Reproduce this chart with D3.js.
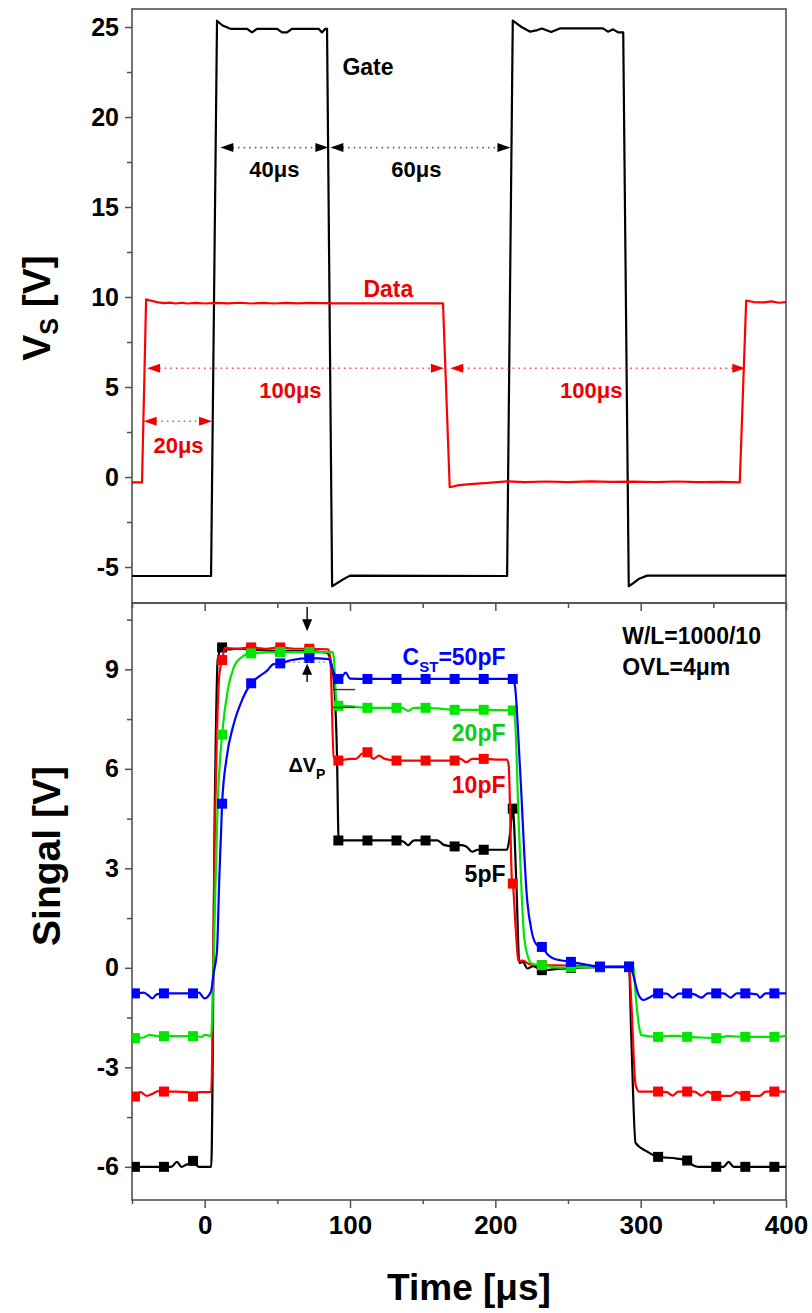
<!DOCTYPE html>
<html><head><meta charset="utf-8">
<script src="https://cdn.jsdelivr.net/npm/d3@7"></script>
<style>
html,body{margin:0;padding:0;background:#fff}
svg text{font-family:"Liberation Sans",Arial,sans-serif;font-weight:bold}
</style></head>
<body><svg id="chart" width="812" height="1313"></svg>
<script>
// ---------------- data ----------------
const timeTicks = [0, 100, 200, 300, 400];
const timeMinor = [-50, 50, 150, 250, 350];
const vsTicks = [-5, 0, 5, 10, 15, 20, 25];
const vsMinor = [-2.5, 2.5, 7.5, 12.5, 17.5, 22.5];
const sigTicks = [-6, -3, 0, 3, 6, 9];
const sigMinor = [-4.5, -1.5, 1.5, 4.5, 7.5, 10.5];

// gate pulse [time µs, volts]
const gateTrace = [[-50,-5.5],[4.4,-5.5],[8.5,25.35],[12,25.1],[17.7,24.9],[29.2,24.9],[32.6,24.7],[36,24.9],[49.8,24.9],
  [53.3,24.7],[56.7,24.7],[60,24.9],[78.4,24.9],[80.7,24.7],[83,24.9],[84.2,24.9],[87.7,-6.07],[94.2,-5.74],[100,-5.48],
  [208.1,-5.5],[212,25.35],[218,25.0],[224,24.74],[229,24.83],[232,24.92],[238.5,24.72],[244.3,24.92],[274,24.92],
  [277.5,24.74],[281,24.87],[284.5,24.7],[288,24.7],[291.8,-6.07],[295,-5.9],[299,-5.65],[304.5,-5.48],[400,-5.48]];

// data line
const dataTrace = [[-50,-0.3],[-43.1,-0.3],[-40.3,9.87],[-36,9.78],[-32,9.7],[-28,9.66],[-24,9.69],[-20,9.64],[-16,9.68],
  [-12,9.64],[-6,9.67],[0,9.64],[8,9.67],[16,9.65],[24,9.68],[32,9.64],[40,9.67],[48,9.64],[56,9.67],[64,9.65],[72,9.67],
  [90,9.65],[164,9.65],[168.6,-0.57],[175,-0.45],[185,-0.38],[195,-0.33],[208,-0.24],[220,-0.28],[235,-0.25],[250,-0.29],
  [265,-0.24],[280,-0.27],[295,-0.26],[310,-0.29],[325,-0.25],[340,-0.29],[355,-0.27],[368.2,-0.3],[372.6,9.8],[378,9.72],
  [385,9.7],[390,9.76],[395,9.68],[400,9.72]];

// pixel signal for each storage capacitor
const cst5Trace = [[-50,-6.0],[-28,-6.0],[-23,-6.0],[-19,-5.85],[-16,-6.0],[-12,-5.92],[-8,-5.88],[-4,-6.0],[4.5,-6.0],
  [7,5],[9,9.3],[12,9.66],[16,9.6],[22,9.62],[32,9.6],[52,9.55],[72,9.55],[84,9.5],[87,9.2],[89,8.6],[91,6.5],[92.2,3.84],
  [112,3.84],[132,3.84],[137,3.8],[140,3.7],[144,3.84],[152,3.84],[160,3.84],[165,3.7],[172,3.66],[176,3.7],[180,3.66],
  [184,3.5],[188,3.56],[192,3.56],[208,3.56],[210,4.0],[212,4.8],[214.5,2.5],[216.5,0.15],[219,0.18],[222,-0.02],[226,0.05],
  [232,-0.07],[252,0.0],[272,0.02],[292,0.02],[293.5,-2],[296.5,-5.28],[304.5,-5.54],[312,-5.7],[325,-5.75],[332,-5.81],
  [336,-5.95],[340,-6.0],[352,-6.0],[357,-6.0],[360.5,-5.85],[364,-6.0],[372,-6.0],[392,-6.0],[400,-6.0]];
const cst10Trace = [[-50,-3.8],[-48,-3.86],[-44,-3.75],[-40,-3.86],[-36,-3.8],[-32,-3.72],[-28,-3.73],[-20,-3.73],[-12,-3.75],
  [-8,-3.84],[-4,-3.75],[4.5,-3.75],[7,4],[10,8.8],[12,9.28],[14,9.65],[22,9.62],[32,9.66],[42,9.62],[52,9.66],[62,9.62],
  [72,9.62],[85,9.6],[86.5,9.3],[88.8,6.35],[92,6.25],[100,6.3],[104,6.3],[108,6.45],[112,6.5],[116,6.3],[120,6.4],[124,6.3],
  [132,6.25],[152,6.25],[172,6.25],[176,6.3],[180,6.2],[184,6.3],[188,6.3],[192,6.3],[200,6.28],[208,6.28],[209.2,6.1],
  [211.5,2.6],[212,2.54],[214,1.2],[216,0.2],[219,0.22],[224,0.1],[232,0.08],[252,0.07],[272,0.04],[292,0.04],[293.5,-1.0],
  [296.5,-3.53],[299,-3.73],[312,-3.73],[318,-3.75],[322,-3.85],[326,-3.73],[332,-3.73],[337,-3.73],[342,-3.85],[346,-3.73],
  [352,-3.86],[362,-3.86],[366,-3.75],[372,-3.86],[382,-3.86],[386,-3.73],[392,-3.73],[400,-3.73]];
const cst20Trace = [[-50,-2.12],[-48,-2.12],[-42,-2.1],[-38,-2.02],[-34,-2.05],[-28,-2.06],[-18,-2.06],[-8,-2.06],[-2,-2.08],
  [0,-2.02],[4.5,-2.05],[6,0],[9,5],[12,7.03],[16,8.4],[20,9.06],[25,9.35],[29,9.46],[32,9.48],[52,9.52],[72,9.52],[88,9.52],
  [89,9.3],[90.7,7.96],[92,7.9],[96,7.9],[112,7.84],[132,7.84],[136,7.84],[140,7.75],[144,7.84],[152,7.84],[160,7.82],
  [172,7.78],[192,7.78],[212,7.76],[213.5,7.5],[216,4.5],[219.6,1.05],[222,0.4],[225,0.13],[232,0.08],[245,0.0],[252,0.02],
  [272,0.02],[292,0.05],[295,0.02],[296.5,-0.8],[299,-1.8],[300.4,-2.03],[312,-2.08],[320,-2.05],[326,-2.05],[332,-2.08],
  [342,-2.1],[352,-2.12],[360,-2.06],[372,-2.08],[392,-2.08],[400,-2.05]];
const cst50Trace = [[-50,-0.77],[-48,-0.77],[-42,-0.75],[-39,-0.82],[-36,-0.92],[-33,-0.8],[-28,-0.77],[-8,-0.77],[-4,-0.75],
  [0,-0.92],[3,-0.82],[4.5,-0.7],[6,-0.2],[8.5,0.53],[10,2.6],[12,4.95],[15,6.3],[20,7.35],[26,8.1],[32,8.58],[38,8.8],
  [43,8.96],[47,9.15],[52,9.18],[60,9.28],[72,9.34],[85.4,9.31],[88,9.0],[91.1,8.71],[94,8.75],[97,8.9],[100,8.72],
  [112,8.71],[212,8.71],[213.5,8.5],[217,6.0],[221.9,2.04],[225,1.1],[228.8,0.68],[232,0.63],[236,0.4],[240,0.28],
  [252,0.18],[262,0.1],[272,0.03],[292,0.03],[294,-0.1],[298.6,-0.82],[302,-0.97],[305,-0.92],[312,-0.77],[318,-0.78],
  [322,-0.9],[326,-0.78],[332,-0.77],[337,-0.8],[342,-0.9],[346,-0.77],[352,-0.77],[357,-0.77],[362,-0.9],[366,-0.77],
  [372,-0.77],[380,-0.8],[382,-0.9],[386,-0.77],[392,-0.77],[400,-0.77]];

// symbol sample times and values
const markerTimes = [-48,-28,-8,12,32,52,72,92,112,132,152,172,192,212,232,252,272,292,312,332,352,372,392];
const cst5Marks  = [-6.0,-6.0,-5.82,9.66,9.6,9.55,9.55,3.84,3.84,3.84,3.84,3.66,3.56,4.8,-0.07,0.0,0.02,0.02,-5.7,-5.81,-6.0,-6.0,-6.0];
const cst10Marks = [-3.88,-3.73,-3.88,9.28,9.66,9.66,9.62,6.25,6.5,6.25,6.25,6.25,6.3,2.54,0.08,0.07,0.04,0.04,-3.73,-3.73,-3.86,-3.86,-3.73];
const cst20Marks = [-2.12,-2.06,-2.06,7.03,9.48,9.52,9.52,7.9,7.84,7.84,7.84,7.78,7.78,7.76,0.08,0.02,0.02,0.05,-2.08,-2.08,-2.12,-2.08,-2.08];
const cst50Marks = [-0.77,-0.77,-0.77,4.95,8.58,9.18,9.34,8.71,8.71,8.71,8.71,8.71,8.71,8.71,0.63,0.18,0.03,0.03,-0.77,-0.77,-0.77,-0.77,-0.77];

const signalSeries = [
  {name: "5pF",  trace: cst5Trace,  marks: cst5Marks,  color: "#000000"},
  {name: "10pF", trace: cst10Trace, marks: cst10Marks, color: "#ff0000"},
  {name: "20pF", trace: cst20Trace, marks: cst20Marks, color: "#00e600"},
  {name: "50pF", trace: cst50Trace, marks: cst50Marks, color: "#0000ff"}
];

// ---------------- layout & scales ----------------
const svg = d3.select("#chart");
const L = 132, R = 786, T = 9, MID = 603, B = 1200;
const x = d3.scaleLinear().domain([-50, 400]).range([L, R]);
const yTop = d3.scaleLinear().domain([-7, 26]).range([MID, T]);
const yBot = d3.scaleLinear().domain([-7, 11]).range([B, MID]);
const fmt = d => String(d);
const axisColor = "#505050";
const markSize = 10;

const defs = svg.append("defs");
defs.append("clipPath").attr("id", "clipTop").append("rect").attr("x", L).attr("y", T).attr("width", R - L).attr("height", MID - T);
defs.append("clipPath").attr("id", "clipBot").append("rect").attr("x", L).attr("y", MID).attr("width", R - L).attr("height", B - MID);

function styleAxis(g) {
  g.select(".domain").remove();
  g.selectAll(".tick line").attr("stroke", axisColor).attr("stroke-width", 1.5);
  g.selectAll(".tick text").attr("fill", "#000").style("font-family", '"Liberation Sans",Arial,sans-serif').style("font-weight", "bold");
}

// ---------------- axes ----------------
// top panel y
svg.append("g").attr("transform", `translate(${L},0)`)
  .call(d3.axisLeft(yTop).tickValues(vsTicks).tickSize(7).tickPadding(6).tickFormat(fmt))
  .call(styleAxis).call(g => g.selectAll("text").attr("font-size", 25));
svg.append("g").attr("transform", `translate(${L},0)`)
  .call(d3.axisLeft(yTop).tickValues(vsMinor).tickSize(5).tickFormat(""))
  .call(styleAxis);
// bottom panel y
svg.append("g").attr("transform", `translate(${L},0)`)
  .call(d3.axisLeft(yBot).tickValues(sigTicks).tickSize(7).tickPadding(6).tickFormat(fmt))
  .call(styleAxis).call(g => g.selectAll("text").attr("font-size", 25));
svg.append("g").attr("transform", `translate(${L},0)`)
  .call(d3.axisLeft(yBot).tickValues(sigMinor).tickSize(5).tickFormat(""))
  .call(styleAxis);
// bottom x axis
svg.append("g").attr("transform", `translate(0,${B})`)
  .call(d3.axisBottom(x).tickValues(timeTicks).tickSize(8).tickPadding(8).tickFormat(fmt))
  .call(styleAxis).call(g => g.selectAll("text").attr("font-size", 26));
svg.append("g").attr("transform", `translate(0,${B})`)
  .call(d3.axisBottom(x).tickValues(timeMinor).tickSize(4).tickFormat(""))
  .call(styleAxis);
// ticks hanging into the lower panel from the shared edge
svg.append("g").attr("transform", `translate(0,${MID})`)
  .call(d3.axisBottom(x).tickValues(timeTicks).tickSize(8).tickFormat(""))
  .call(styleAxis);
svg.append("g").attr("transform", `translate(0,${MID})`)
  .call(d3.axisBottom(x).tickValues(timeMinor).tickSize(5).tickFormat(""))
  .call(styleAxis);

// frames
[[T, MID], [MID, B]].forEach(([a, b]) => {
  svg.append("rect").attr("x", L).attr("y", a).attr("width", R - L).attr("height", b - a)
    .attr("fill", "none").attr("stroke", axisColor).attr("stroke-width", 1.6);
});

// axis titles
const vsTitle = svg.append("text").attr("transform", "translate(50,308) rotate(-90)")
  .attr("text-anchor", "middle").attr("font-size", 39);
vsTitle.append("tspan").text("V");
vsTitle.append("tspan").attr("font-size", 25).attr("dy", 8).text("S");
vsTitle.append("tspan").attr("dy", -8).text(" [V]");

svg.append("text").attr("transform", "translate(60,856) rotate(-90)")
  .attr("text-anchor", "middle").attr("font-size", 39).text("Singal [V]");

svg.append("text").attr("x", 469).attr("y", 1300).attr("text-anchor", "middle")
  .attr("font-size", 37).text("Time [μs]");

// ---------------- top panel ----------------
const topG = svg.append("g").attr("clip-path", "url(#clipTop)");
const lineTop = d3.line().x(d => x(d[0])).y(d => yTop(d[1]));
topG.append("path").datum(gateTrace).attr("d", lineTop).attr("fill", "none")
  .attr("stroke", "#000").attr("stroke-width", 2.2).attr("stroke-linejoin", "round");
topG.append("path").datum(dataTrace).attr("d", lineTop).attr("fill", "none")
  .attr("stroke", "#ff0000").attr("stroke-width", 2.2).attr("stroke-linejoin", "round");

function head(px, py, dir, len, half) {
  // dir = -1 points left, +1 points right, tip at (px,py)
  return `M${px},${py}L${px - dir * len},${py - half}L${px - dir * len},${py + half}Z`;
}
function span(g, s, yScale, color, dotColor) {
  const y0 = yScale(s.level), x0 = x(s.from), x1 = x(s.to);
  g.append("line").attr("x1", x0 + 12).attr("x2", x1 - 12).attr("y1", y0).attr("y2", y0)
    .attr("stroke", dotColor).attr("stroke-width", 1.6).attr("stroke-dasharray", "1.6,4");
  g.append("path").attr("d", head(x0, y0, -1, 13, 4.5)).attr("fill", color);
  g.append("path").attr("d", head(x1, y0, 1, 13, 4.5)).attr("fill", color);
  g.append("text").attr("x", x(s.lx)).attr("y", yScale(s.ly)).attr("text-anchor", "middle")
    .attr("font-size", 22).attr("fill", color).text(s.label);
}
const gateSpans = [
  {from: 10.8, to: 85.1, level: 18.3, label: "40μs", lx: 48, ly: 16.67},
  {from: 86.5, to: 210.4, level: 18.3, label: "60μs", lx: 145.7, ly: 16.67}
];
const dataSpans = [
  {from: -39.6, to: 164.6, level: 6.04, label: "100μs", lx: 59, ly: 4.39},
  {from: 169, to: 372, level: 6.04, label: "100μs", lx: 266, ly: 4.39},
  {from: -42, to: 5.1, level: 3.1, label: "20μs", lx: -18, ly: 1.33}
];
const annTop = svg.append("g");
gateSpans.forEach(s => span(annTop, s, yTop, "#000", "#666"));
dataSpans.forEach(s => span(annTop, s, yTop, "#ee0000", "#f05050"));
annTop.append("text").attr("x", x(94.8)).attr("y", yTop(22.33)).attr("font-size", 23).text("Gate");
annTop.append("text").attr("x", x(126.4)).attr("y", yTop(10.0)).attr("text-anchor", "middle")
  .attr("font-size", 23).attr("fill", "#ee0000").text("Data");

// ---------------- bottom panel ----------------
const botG = svg.append("g").attr("clip-path", "url(#clipBot)");
const lineBot = d3.line().x(d => x(d[0])).y(d => yBot(d[1])).curve(d3.curveMonotoneX);
signalSeries.forEach(s => {
  const g = botG.append("g");
  g.append("path").datum(s.trace).attr("d", lineBot).attr("fill", "none")
    .attr("stroke", s.color).attr("stroke-width", 2.2).attr("stroke-linejoin", "round");
  const pts = markerTimes.map((t, i) => [t, s.marks[i]]);
  g.selectAll("rect.m").data(pts).enter().append("rect").attr("class", "m")
    .attr("x", d => x(d[0]) - markSize / 2).attr("y", d => yBot(d[1]) - markSize / 2)
    .attr("width", markSize).attr("height", markSize).attr("fill", s.color);
});

// ΔVp marker arrows and guides
const annBot = svg.append("g");
const vpX = 70.5;
annBot.append("line").attr("x1", x(vpX)).attr("x2", x(vpX)).attr("y1", yBot(10.88)).attr("y2", yBot(10.45))
  .attr("stroke", "#000").attr("stroke-width", 1.4);
annBot.append("path").attr("d", `M${x(vpX)},${yBot(10.15)}l-5,-12l10,0Z`).attr("fill", "#000");
annBot.append("line").attr("x1", x(vpX)).attr("x2", x(vpX)).attr("y1", yBot(8.62)).attr("y2", yBot(8.95))
  .attr("stroke", "#000").attr("stroke-width", 1.4);
annBot.append("path").attr("d", `M${x(vpX)},${yBot(9.17)}l-5,11l10,0Z`).attr("fill", "#000");
annBot.append("line").attr("x1", x(57.6)).attr("x2", x(85)).attr("y1", yBot(9.22)).attr("y2", yBot(9.22))
  .attr("stroke", "#777").attr("stroke-width", 1.3).attr("stroke-dasharray", "1.5,3.5");
[8.39, 7.85].forEach(v => {
  annBot.append("line").attr("x1", x(88.4)).attr("x2", x(103.6)).attr("y1", yBot(v)).attr("y2", yBot(v))
    .attr("stroke", "#333").attr("stroke-width", 1.4);
});

const dv = annBot.append("text").attr("x", x(57.6)).attr("y", yBot(5.89)).attr("font-size", 20);
dv.append("tspan").text("ΔV");
dv.append("tspan").attr("font-size", 14).attr("dy", 7).text("P");

const c50 = annBot.append("text").attr("x", x(207)).attr("y", yBot(9.13)).attr("text-anchor", "end")
  .attr("font-size", 23).attr("fill", "#0000ff");
c50.append("tspan").text("C");
c50.append("tspan").attr("font-size", 15).attr("dy", 7).text("ST");
c50.append("tspan").attr("dy", -7).text("=50pF");
annBot.append("text").attr("x", x(207)).attr("y", yBot(6.85)).attr("text-anchor", "end")
  .attr("font-size", 23).attr("fill", "#11cc11").text("20pF");
annBot.append("text").attr("x", x(207)).attr("y", yBot(5.26)).attr("text-anchor", "end")
  .attr("font-size", 23).attr("fill", "#ee0000").text("10pF");
annBot.append("text").attr("x", x(207)).attr("y", yBot(2.58)).attr("text-anchor", "end")
  .attr("font-size", 23).attr("fill", "#000").text("5pF");
annBot.append("text").attr("x", x(287.3)).attr("y", yBot(9.77)).attr("font-size", 23).text("W/L=1000/10");
annBot.append("text").attr("x", x(287.3)).attr("y", yBot(8.84)).attr("font-size", 23).text("OVL=4μm");
</script>
</body></html>
